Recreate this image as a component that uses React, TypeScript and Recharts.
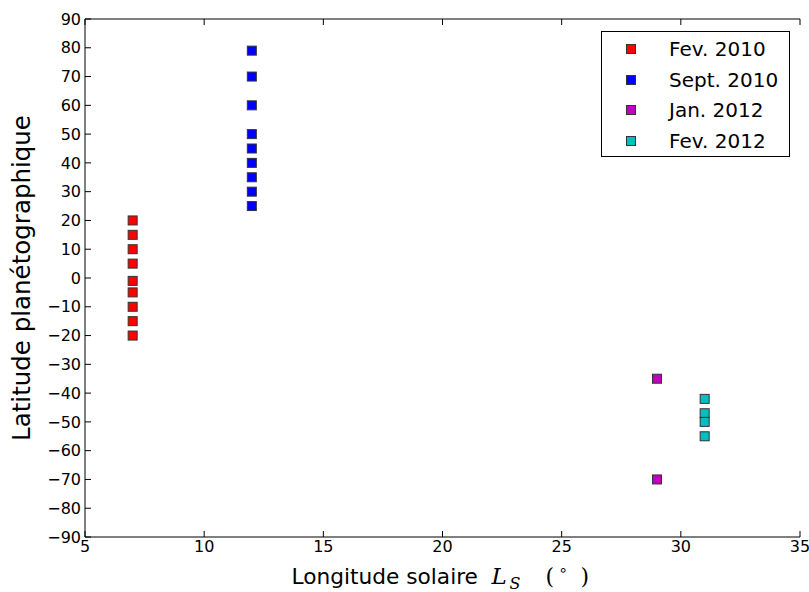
// Latitude vs solar longitude scatter, four observation campaigns
import { ScatterChart, Scatter, XAxis, YAxis } from 'recharts';

const fev2010Lat = [20, 15, 10, 5, -1, -5, -10, -15, -20];
const fev2010Ls = [7, 7, 7, 7, 7, 7, 7, 7, 7];
const sept2010Lat = [79, 70, 60, 50, 45, 40, 35, 30, 25];
const sept2010Ls = [12, 12, 12, 12, 12, 12, 12, 12, 12];
const jan2012Lat = [-35, -70];
const jan2012Ls = [29, 29];
const fev2012Lat = [-42, -47, -50, -55];
const fev2012Ls = [31, 31, 31, 31];

const xTicks = [5, 10, 15, 20, 25, 30, 35];
const yTicks = [-90, -80, -70, -60, -50, -40, -30, -20, -10, 0, 10, 20, 30, 40, 50, 60, 70, 80, 90];

const SERIES = [
  { name: 'Fev. 2010', color: '#ff0000', ls: fev2010Ls, lat: fev2010Lat },
  { name: 'Sept. 2010', color: '#0000ff', ls: sept2010Ls, lat: sept2010Lat },
  { name: 'Jan. 2012', color: '#bf00bf', ls: jan2012Ls, lat: jan2012Lat },
  { name: 'Fev. 2012', color: '#00bfbf', ls: fev2012Ls, lat: fev2012Lat },
];

const FONT = '"DejaVu Sans", sans-serif';
const MATH = '"DejaVu Serif", serif';

const toPoints = (ls: number[], lat: number[]) => ls.map((x, i) => ({ x, y: lat[i] }));
const minus = (v: number) => String(v).replace('-', '\u2212');

const SquareMarker = (props: any) => {
  const { cx, cy, fill } = props;
  if (cx == null || cy == null) return null;
  return (
    <rect x={cx - 4.5} y={cy - 4.5} width={9} height={9} fill={fill} stroke="#333" strokeWidth={1} />
  );
};

const NoTick = () => <g />;

const LegendBox = () => (
  <div
    style={{
      position: 'absolute',
      left: 601,
      top: 31,
      border: '1px solid #000',
      background: '#fff',
      width: 187,
      height: 122,
      fontFamily: FONT,
      fontSize: 20,
      color: '#000',
      paddingTop: 2,
    }}
  >
    {SERIES.map((s) => (
      <div key={s.name} style={{ display: 'flex', alignItems: 'center', height: 30.5 }}>
        <span
          style={{
            display: 'inline-block',
            width: 8,
            height: 8,
            background: s.color,
            border: '1px solid #333',
            marginLeft: 24,
            marginRight: 33,
          }}
        />
        <span>{s.name}</span>
      </div>
    ))}
  </div>
);

// matplotlib-style label: "Longitude solaire $L_S$ $(^\circ)$"
const XLabel = (props: any) => {
  const { viewBox } = props;
  const x0 = viewBox.x + viewBox.width / 2 - 151;
  const y0 = viewBox.y + 47;
  return (
    <text x={x0} y={y0} fontFamily={FONT} fontSize={21.7} fill="#000">
      Longitude solaire
      <tspan x={x0 + 200} fontFamily={MATH} fontStyle="italic" fontSize={23}>L</tspan>
      <tspan x={x0 + 218} fontFamily={MATH} fontStyle="italic" fontSize={16} dy={5}>S</tspan>
      <tspan x={x0 + 254} dy={-5} fontFamily={MATH} fontSize={22}>(</tspan>
      <tspan x={x0 + 267} fontSize={15} dy={-9}>∘</tspan>
      <tspan x={x0 + 289} dy={9} fontFamily={MATH} fontSize={22}>)</tspan>
    </text>
  );
};

const YLabel = (props: any) => {
  const { viewBox } = props;
  const cy = viewBox.y + viewBox.height / 2;
  return (
    <text
      x={30}
      y={cy}
      transform={`rotate(-90, 30, ${cy})`}
      textAnchor="middle"
      fontFamily={FONT}
      fontSize={24.5}
      fill="#000"
    >
      Latitude planétographique
    </text>
  );
};

const tickStyle = { fill: '#000', fontSize: 16, fontFamily: FONT };

export default function App() {
  return (
    <div style={{ position: 'absolute', left: 0, top: 0, width: 809, height: 592, background: '#fff' }}>
      <ScatterChart width={809} height={592} margin={{ top: 18, right: 9, bottom: 25, left: 35 }}>
        <XAxis
          type="number"
          dataKey="x"
          domain={[5, 35]}
          ticks={xTicks}
          interval={0}
          height={30}
          tick={tickStyle}
          tickSize={-6}
          tickMargin={10}
          axisLine={{ stroke: '#000' }}
          tickLine={{ stroke: '#000' }}
          label={<XLabel />}
        />
        <XAxis
          xAxisId="top"
          orientation="top"
          type="number"
          dataKey="x"
          domain={[5, 35]}
          ticks={xTicks}
          interval={0}
          height={1}
          tick={<NoTick />}
          tickSize={-6}
          axisLine={{ stroke: '#000' }}
          tickLine={{ stroke: '#000' }}
        />
        <YAxis
          type="number"
          dataKey="y"
          domain={[-90, 90]}
          ticks={yTicks}
          interval={0}
          width={50}
          tick={tickStyle}
          tickFormatter={minus}
          tickSize={-6}
          tickMargin={10}
          axisLine={{ stroke: '#000' }}
          tickLine={{ stroke: '#000' }}
          label={<YLabel />}
        />
        <YAxis
          yAxisId="right"
          orientation="right"
          type="number"
          dataKey="y"
          domain={[-90, 90]}
          ticks={yTicks}
          interval={0}
          width={0}
          tick={<NoTick />}
          tickSize={-6}
          axisLine={{ stroke: '#000' }}
          tickLine={{ stroke: '#000' }}
        />
        {SERIES.map((s) => (
          <Scatter
            key={s.name}
            name={s.name}
            data={toPoints(s.ls, s.lat)}
            fill={s.color}
            shape={<SquareMarker />}
            isAnimationActive={false}
          />
        ))}
        {/* invisible copy bound to the top/right frame axes so they get ticks */}
        <Scatter
          xAxisId="top"
          yAxisId="right"
          data={toPoints(fev2010Ls, fev2010Lat)}
          shape={<NoTick />}
          legendType="none"
          isAnimationActive={false}
        />
      </ScatterChart>
      <LegendBox />
    </div>
  );
}
